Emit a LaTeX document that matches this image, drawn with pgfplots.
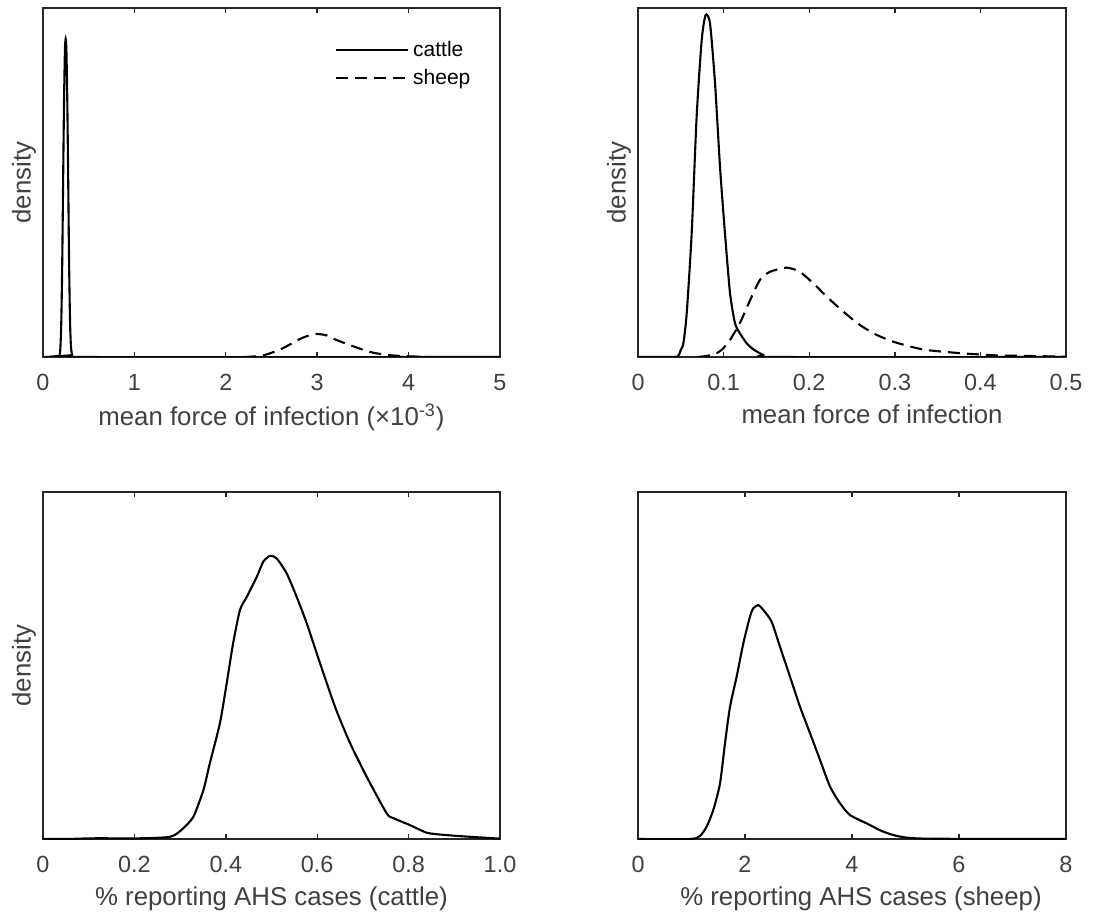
\documentclass[border=0pt]{standalone}
\usepackage{pgfplots}
\pgfplotsset{compat=1.18}
\usepackage{fontspec}
\setmainfont{Liberation Sans}

\definecolor{axgray}{HTML}{262626}
\definecolor{txtgray}{HTML}{404040}

\pgfplotsset{
  panel/.style={
    scale only axis,
    ymin=0, ymax=1,
    ytick=\empty,
    tick align=inside,
    xtick pos=both,
    xticklabel pos=left,
    major tick length=2.5pt,
    every tick/.style={axgray, line width=0.7pt},
    axis line style={axgray, line width=0.9pt},
    tick label style={font=\fontsize{11.7}{14}\selectfont, text=txtgray},
    xticklabel style={yshift=-5pt},
    label style={font=\fontsize{12.9}{15.5}\selectfont, text=txtgray},
    /pgf/number format/assume math mode=true,
  },
  dens/.style={black, line width=1.05pt, smooth, tension=0.4},
}

\begin{document}
\begin{tikzpicture}
\useasboundingbox (0,0) rectangle (559pt,457.5pt);

% top left: mean force of infection (x 1e-3)
\begin{axis}[panel, at={(21.5pt,279pt)}, anchor=south west,
    width=228.5pt, height=174.5pt,
    xmin=0, xmax=5, xtick={0,1,2,3,4,5},
    xticklabels={0,1,2,3,4,5},
    xlabel={mean force of infection (×10\textsuperscript{-3})},
    ylabel={density},
    legend style={at={(0.958,0.93)}, anchor=north east, draw=none, fill=none,
      font=\fontsize{10.5}{12.6}\selectfont, text=black, row sep=1pt},
    legend cell align=left,
    legend image code/.code={\draw[#1] (0pt,0pt) -- (36pt,0pt);},
]
\addplot[dens] coordinates {
  (0,0) (0.16,0) (0.18,0.004) (0.19,0.025) (0.20,0.10) (0.21,0.26) (0.22,0.50)
  (0.23,0.73) (0.24,0.88) (0.248,0.911) (0.256,0.88) (0.266,0.73) (0.276,0.50)
  (0.286,0.26) (0.296,0.10) (0.306,0.03) (0.318,0.006) (0.33,0) (5,0)
};
\addlegendentry{cattle}
\addplot[dens, dash pattern=on 6pt off 3.5pt] coordinates {
  (2.2,0) (2.4,0.004) (2.6,0.022) (2.8,0.05) (2.9,0.061) (3.0,0.066)
  (3.1,0.062) (3.2,0.05) (3.4,0.03) (3.6,0.013) (3.8,0.005) (4.0,0.002) (4.2,0)
};
\addlegendentry{sheep}
\end{axis}

% top right: mean force of infection
\begin{axis}[panel, at={(319pt,279pt)}, anchor=south west,
    width=214pt, height=174.5pt,
    xmin=0, xmax=0.5, xtick={0,0.1,0.2,0.3,0.4,0.5},
    xticklabels={0,0.1,0.2,0.3,0.4,0.5},
    xlabel={mean force of infection},
    xlabel style={xshift=10pt},
    ylabel={density},
]
\addplot[dens] coordinates {
  (0,0) (0.040,0) (0.0471,0.003) (0.0499,0.02) (0.053,0.039) (0.0569,0.125)
  (0.0627,0.354) (0.0685,0.689) (0.0744,0.908) (0.079,0.98) (0.0841,0.956)
  (0.090,0.784) (0.0958,0.545) (0.1016,0.354) (0.1075,0.183) (0.1133,0.097)
  (0.119,0.068) (0.127,0.039) (0.1347,0.022) (0.1464,0.006) (0.162,0) (0.5,0)
};
\addplot[dens, dash pattern=on 6pt off 3.5pt] coordinates {
  (0.07,0) (0.080,0.003) (0.092,0.011) (0.0997,0.025) (0.1075,0.049)
  (0.119,0.097) (0.131,0.163) (0.1425,0.221) (0.154,0.244) (0.1737,0.256)
  (0.189,0.244) (0.2048,0.211) (0.2204,0.173) (0.2399,0.130) (0.259,0.092)
  (0.279,0.063) (0.298,0.044) (0.318,0.030) (0.337,0.020) (0.376,0.011)
  (0.415,0.005) (0.454,0.003) (0.5,0.001)
};
\end{axis}

% bottom left: % reporting (cattle)
\begin{axis}[panel, at={(21.5pt,38pt)}, anchor=south west,
    width=228.5pt, height=173.5pt,
    xmin=0, xmax=1, xtick={0,0.2,0.4,0.6,0.8,1},
    xticklabels={0,0.2,0.4,0.6,0.8,1.0},
    xlabel={\% reporting AHS cases (cattle)},
    ylabel={density},
]
\addplot[dens] coordinates {
  (0,0) (0.052,0) (0.110,0.002) (0.212,0.002) (0.271,0.005) (0.289,0.012)
  (0.307,0.031) (0.329,0.064) (0.351,0.141) (0.365,0.218) (0.387,0.333)
  (0.402,0.449) (0.416,0.564) (0.431,0.660) (0.446,0.698) (0.468,0.756)
  (0.482,0.799) (0.497,0.816) (0.511,0.809) (0.533,0.766) (0.555,0.698)
  (0.577,0.622) (0.599,0.535) (0.621,0.449) (0.643,0.367) (0.672,0.276)
  (0.708,0.180) (0.752,0.074) (0.767,0.060) (0.803,0.040) (0.840,0.018)
  (0.876,0.012) (0.927,0.007) (1.0,0.001)
};
\end{axis}

% bottom right: % reporting (sheep)
\begin{axis}[panel, at={(319pt,38pt)}, anchor=south west,
    width=214pt, height=173.5pt,
    xmin=0, xmax=8, xtick={0,2,4,6,8},
    xticklabels={0,2,4,6,8},
    xlabel={\% reporting AHS cases (sheep)},
    xlabel style={xshift=4.5pt},
]
\addplot[dens] coordinates {
  (0,0) (0.972,0) (1.159,0.009) (1.284,0.036) (1.408,0.084) (1.533,0.160)
  (1.626,0.276) (1.720,0.381) (1.844,0.468) (1.969,0.564) (2.093,0.641)
  (2.156,0.665) (2.249,0.674) (2.343,0.660) (2.498,0.626) (2.654,0.554)
  (2.841,0.468) (3.028,0.381) (3.215,0.305) (3.402,0.228) (3.589,0.151)
  (3.776,0.103) (3.963,0.069) (4.274,0.045) (4.586,0.021) (4.897,0.007)
  (5.396,0.001) (8,0)
};
\end{axis}
\end{tikzpicture}
\end{document}
